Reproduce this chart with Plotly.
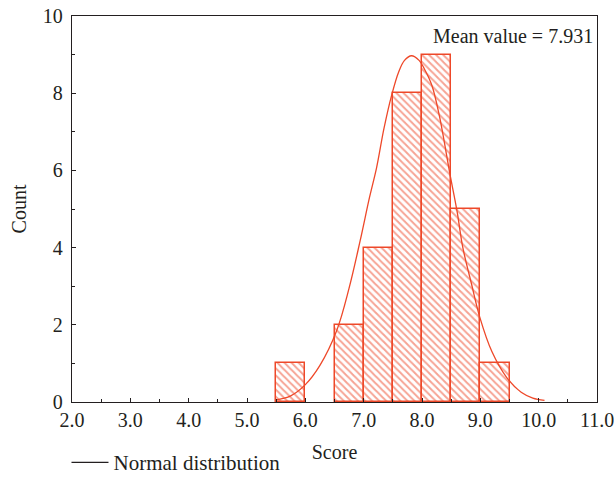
import plotly.graph_objects as go

# Histogram bins (left edge, right edge) and counts
bin_left = [5.5, 6.5, 7.0, 7.5, 8.0, 8.5, 9.0]
bin_width = [0.5, 0.5, 0.5, 0.5, 0.5, 0.5, 0.5]
counts = [1, 2, 4, 8, 9, 5, 1]

# Normal distribution curve points
curve_x = [5.48, 5.75, 6.0, 6.25, 6.54, 6.75, 6.94, 7.1, 7.22, 7.35, 7.48, 7.6,
           7.7, 7.82, 7.95, 8.05, 8.17, 8.3, 8.48, 8.6, 8.7, 8.85, 8.99, 9.2,
           9.45, 9.7, 9.9, 10.1]
curve_y = [0.05, 0.16, 0.45, 0.95, 1.86, 2.95, 4.18, 5.3, 6.06, 7.1, 7.95, 8.55,
           8.85, 8.97, 8.85, 8.6, 8.2, 7.4, 5.9, 4.95, 4.0, 3.05, 2.2, 1.3,
           0.64, 0.25, 0.1, 0.04]

x_tickvals = [2, 3, 4, 5, 6, 7, 8, 9, 10, 11]
x_ticktext = ["2.0", "3.0", "4.0", "5.0", "6.0", "7.0", "8.0", "9.0", "10.0", "11.0"]
y_tickvals = [0, 2, 4, 6, 8, 10]

mean_label = "Mean value = 7.931"

RED = "#ee4829"
DARK = "#231f20"
FONT = "Liberation Serif"
FS = 20

bar_centers = [l + w / 2 for l, w in zip(bin_left, bin_width)]

fig = go.Figure()
fig.add_trace(go.Bar(
    x=bar_centers, y=counts, width=bin_width,
    marker=dict(color="white",
                line=dict(color=RED, width=1.5),
                pattern=dict(shape="\\", fgcolor=RED, bgcolor="white",
                             size=5, solidity=0.4)),
    showlegend=False, hoverinfo="x+y",
))
fig.add_trace(go.Scatter(
    x=curve_x, y=curve_y, mode="lines",
    line=dict(color=RED, width=1.3, shape="spline", smoothing=1.0),
    showlegend=False,
))
# Legend entry (black line sample as in the reference)
fig.add_trace(go.Scatter(
    x=[None], y=[None], mode="lines", name="Normal distribution",
    line=dict(color=DARK, width=1.2), showlegend=True,
))

fig.add_annotation(
    x=1.0, y=0.983, xref="paper", yref="paper", xanchor="right", yanchor="top",
    text=mean_label, showarrow=False, xshift=-2,
    font=dict(family=FONT, size=FS, color=DARK),
)

axis_common = dict(
    showline=True, linecolor=DARK, linewidth=1.3, mirror=True,
    ticks="inside", ticklen=4, tickcolor=DARK, tickwidth=1.2,
    showgrid=False, zeroline=False, automargin=False,
    ticklabeloverflow="allow",
    tickfont=dict(family=FONT, size=FS, color=DARK),
)

fig.update_layout(
    width=614, height=496,
    margin=dict(l=72, r=17, t=16, b=94),
    paper_bgcolor="white", plot_bgcolor="white",
    bargap=0,
    xaxis=dict(range=[2, 11], tickvals=x_tickvals, ticktext=x_ticktext,
               minor=dict(ticks="inside", ticklen=3, dtick=0.5, tick0=2,
                          tickcolor=DARK, tickwidth=1.2, showgrid=False),
               title=dict(text="Score", font=dict(family=FONT, size=FS, color=DARK),
                          standoff=14),
               **axis_common),
    yaxis=dict(range=[0, 10], tickvals=y_tickvals, ticklabelstandoff=4,
               minor=dict(ticks="inside", ticklen=3, dtick=1, tick0=0,
                          tickcolor=DARK, tickwidth=1.2, showgrid=False),
               title=dict(text="Count", font=dict(family=FONT, size=FS, color=DARK),
                          standoff=10),
               **axis_common),
    legend=dict(orientation="h", x=-0.0105, y=-0.104, xanchor="left", yanchor="top",
                itemwidth=37,
                font=dict(family=FONT, size=21, color=DARK),
                bgcolor="rgba(0,0,0,0)"),
)

fig.write_html(
    "out.html",
    config={"displayModeBar": False},
    post_script=("document.body.style.margin='0';"
                 "document.body.style.overflow='hidden';"
                 "document.documentElement.style.overflow='hidden';"),
)
